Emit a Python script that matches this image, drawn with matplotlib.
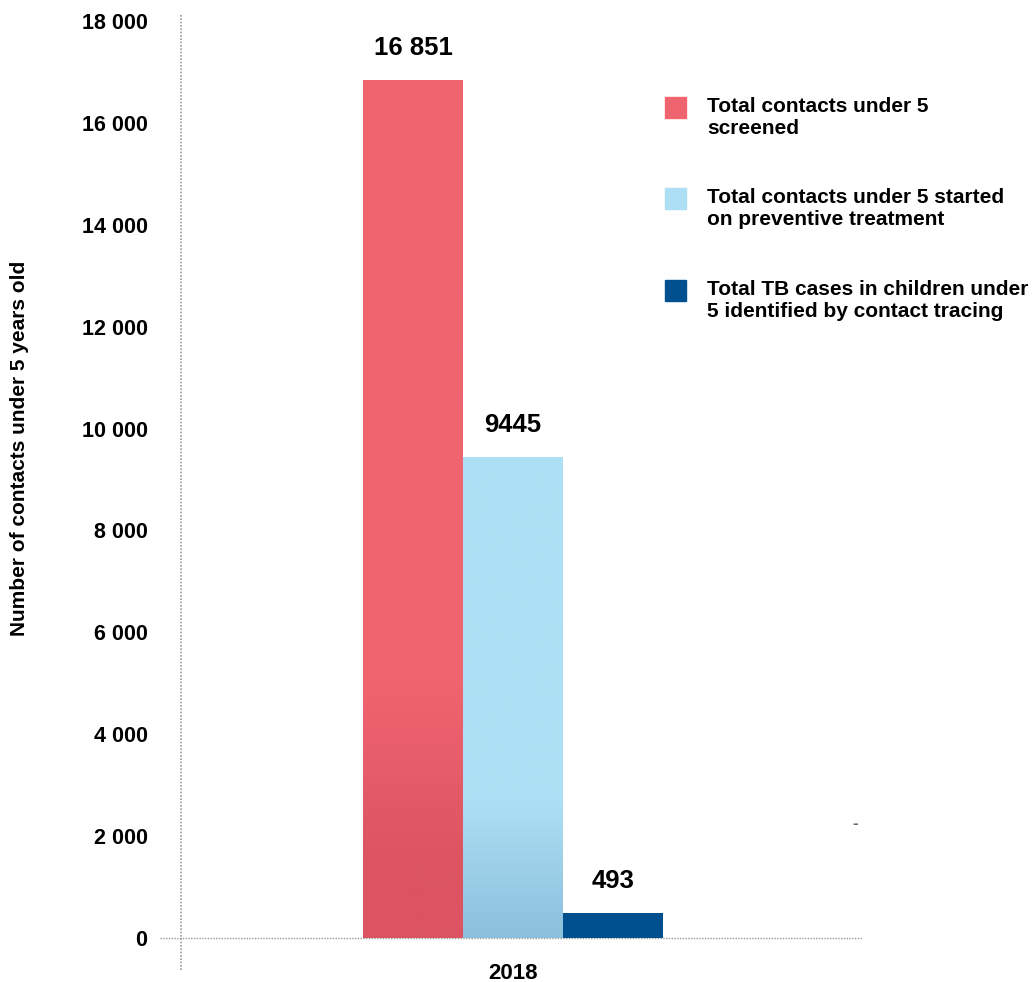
import numpy as np
import matplotlib.pyplot as plt
from matplotlib.colors import LinearSegmentedColormap
from matplotlib.patches import Rectangle

plt.rcParams['font.family'] = ['Liberation Sans', 'DejaVu Sans']
plt.rcParams['font.weight'] = 'bold'

year = "2018"
series = ["Total contacts under 5\nscreened",
          "Total contacts under 5 started\non preventive treatment",
          "Total TB cases in children under\n5 identified by contact tracing"]
values = [16851, 9445, 493]
value_labels = ["16 851", "9445", "493"]
yticks = [0, 2000, 4000, 6000, 8000, 10000, 12000, 14000, 16000, 18000]
ytick_labels = ["0", "2 000", "4 000", "6 000", "8 000", "10 000",
                "12 000", "14 000", "16 000", "18 000"]

colors_top = ["#F0646F", "#ADE0F4", "#00508F"]
colors_bottom = ["#DC5462", "#8CBFDC", "#00508F"]
# y-range (data) over which each bar fades from top to bottom colour
fade = [(1500, 5000), (0, 2700), (0, 1)]

W, H = 1036, 982
fig = plt.figure(figsize=(W / 100, H / 100), dpi=100)
ax = fig.add_axes([160 / W, 1 - 938 / H, 702 / W, (938 - 15) / H])

xpos = [-1, 0, 1]
bars = ax.bar(xpos, values, width=1, color=colors_top, zorder=2)

# gradient fill for the bars
for b, ct, cb, (lo, hi) in zip(bars, colors_top, colors_bottom, fade):
    h = b.get_height()
    ys = np.linspace(0, h, 300)
    t = np.clip((ys - lo) / (hi - lo), 0, 1)[:, None]
    cmap = LinearSegmentedColormap.from_list("g", [cb, ct])
    img = ax.imshow(t, cmap=cmap, vmin=0, vmax=1, origin="lower", aspect="auto",
                    extent=[b.get_x(), b.get_x() + b.get_width(), 0, h], zorder=3)
    img.set_clip_path(b)

for x, v, lab in zip(xpos, values, value_labels):
    ax.annotate(lab, (x, v), xytext=(0, 14), textcoords="offset points",
                ha="center", va="bottom", fontsize=18.5, fontweight="bold")

ax.set_xlim(-3.53, 3.49)
ax.set_ylim(0, 18118)
ax.set_yticks(yticks)
ax.set_yticklabels(ytick_labels, fontsize=15.5, fontweight="bold")
ax.set_xticks([0])
ax.set_xticklabels([year], fontsize=16, fontweight="bold")
ax.tick_params(axis="y", length=0, pad=9)
ax.tick_params(axis="x", length=0, pad=18)
for s in ax.spines.values():
    s.set_visible(False)

ax.axhline(0, color="#999999", lw=1, ls=(0, (1, 1)), clip_on=False, zorder=1)
ax.axvline(-3.32, ymin=-0.035, ymax=1, color="#999999", lw=1.2, ls=(0, (1, 1)),
           clip_on=False, zorder=1)
ax.text(3.42, 2238, "-", color="#666666", fontsize=12, ha="center", va="center")

ax.set_ylabel("Number of contacts under 5 years old", fontsize=15,
              fontweight="bold")
ax.yaxis.set_label_coords(-131 / 702, 0.53)

# legend drawn by hand
legend_tops = [97, 188, 280]
for lab, c, top in zip(series, colors_top, legend_tops):
    fig.patches.append(Rectangle((665 / W, 1 - (top + 21) / H), 21 / W, 21 / H,
                                 transform=fig.transFigure, color=c))
    fig.text(707 / W, 1 - top / H, lab, fontsize=15, fontweight="bold",
             va="top", ha="left", linespacing=1.18)

fig.savefig("out.png", dpi=100)
